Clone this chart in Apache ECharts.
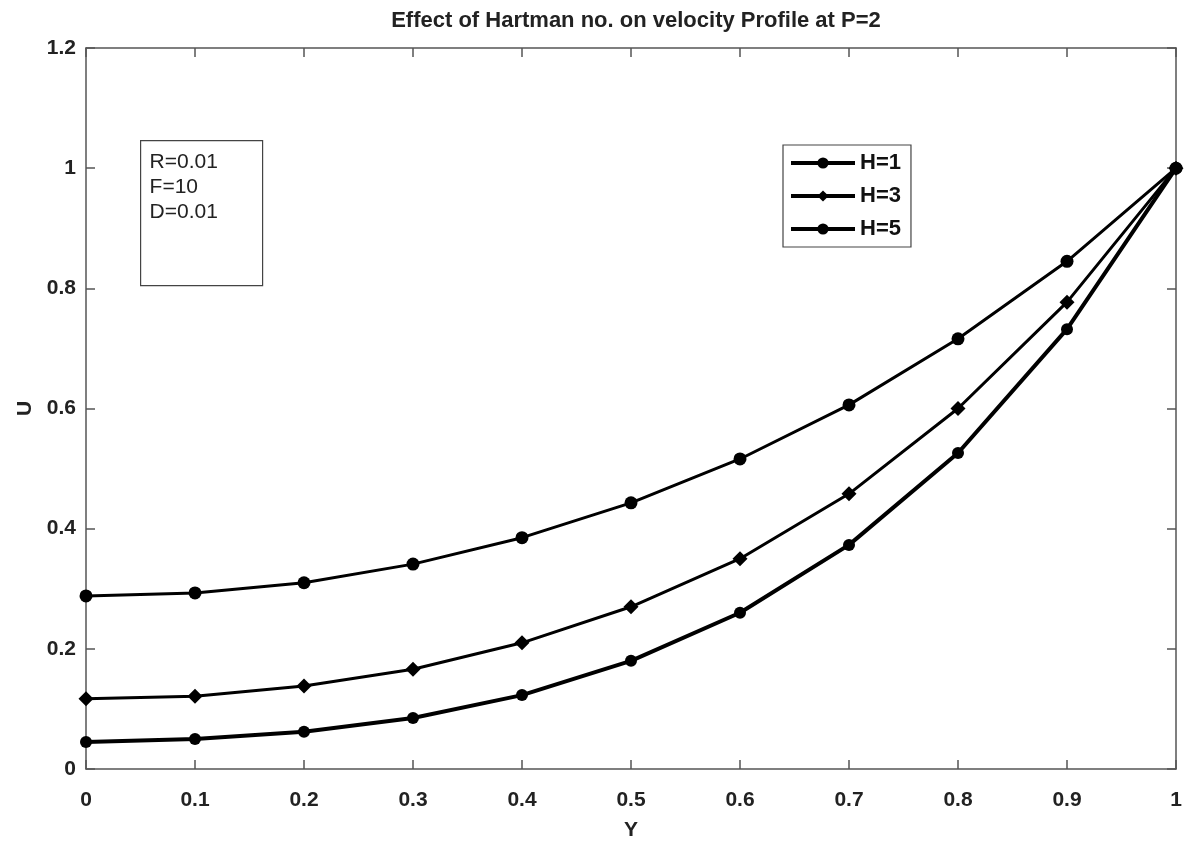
<!DOCTYPE html>
<html>
<head>
<meta charset="utf-8">
<script src="https://cdn.jsdelivr.net/npm/echarts@6/dist/echarts.min.js"></script>
<style>
  html, body { margin: 0; padding: 0; background: #fff; }
  #HartmanChart { width: 1192px; height: 841px; }
</style>
</head>
<body>
<div id="HartmanChart"></div>
<script>
// Y positions across the channel
const yPositions = [0, 0.1, 0.2, 0.3, 0.4, 0.5, 0.6, 0.7, 0.8, 0.9, 1];
// Velocity U for each Hartman number
const uH1 = [0.288, 0.293, 0.31, 0.341, 0.385, 0.443, 0.516, 0.606, 0.716, 0.845, 1];
const uH3 = [0.117, 0.121, 0.138, 0.166, 0.21, 0.27, 0.35, 0.458, 0.6, 0.777, 1];
const uH5 = [0.045, 0.05, 0.062, 0.085, 0.123, 0.18, 0.26, 0.373, 0.526, 0.732, 1];
const seriesNames = ["H=1", "H=3", "H=5"];
const paramLines = ["R=0.01", "F=10", "D=0.01"];

const pairs = (ys) => yPositions.map((x, i) => [x, ys[i]]);

var chartDom = document.getElementById("HartmanChart");
var myChart = echarts.init(chartDom);

const tickFont = {
  color: "#222",
  fontFamily: "Liberation Sans",
  fontWeight: "bold",
  fontSize: 21,
};
// onZero off, otherwise the mirror axes jump onto the main ones
const axisLine = { show: true, onZero: false, lineStyle: { color: "#555", width: 1.5 } };
const axisTick = { show: true, inside: true, length: 9, lineStyle: { color: "#555", width: 1.5 } };
const fmt = (v) => String(Math.round(v * 10) / 10);

var option = {
  backgroundColor: "#fff",
  animation: false,
  title: {
    text: "Effect of Hartman no. on velocity Profile at P=2",
    left: 631,
    textAlign: "center",
    top: 5,
    textStyle: { color: "#222", fontFamily: "Liberation Sans", fontWeight: "bold", fontSize: 22 },
  },
  grid: { left: 86, right: 16, top: 48, bottom: 72, outerBoundsMode: "none" },
  legend: {
    orient: "vertical",
    left: 783,
    top: 145,
    itemWidth: 64,
    itemHeight: 14,
    itemGap: 11,
    padding: [7, 10, 7, 6],
    borderColor: "#444",
    borderWidth: 1.2,
    backgroundColor: "#fff",
    lineStyle: { width: 4 },
    textStyle: { color: "#111", fontFamily: "Liberation Sans", fontWeight: "bold", fontSize: 22 },
    data: seriesNames,
  },
  xAxis: [
    {
      type: "value",
      min: 0,
      max: 1,
      interval: 0.1,
      name: "Y",
      nameLocation: "middle",
      nameGap: 51,
      nameTextStyle: tickFont,
      axisLine: axisLine,
      axisTick: axisTick,
      axisLabel: { ...tickFont, margin: 21, formatter: fmt },
      splitLine: { show: false },
    },
    {
      type: "value",
      position: "top",
      min: 0,
      max: 1,
      interval: 0.1,
      axisLine: axisLine,
      axisTick: axisTick,
      axisLabel: { show: false },
      splitLine: { show: false },
    },
  ],
  yAxis: [
    {
      type: "value",
      min: 0,
      max: 1.2,
      interval: 0.2,
      name: "U",
      nameLocation: "middle",
      nameGap: 50,
      nameRotate: 90,
      nameTextStyle: tickFont,
      axisLine: axisLine,
      axisTick: axisTick,
      axisLabel: { ...tickFont, margin: 10, formatter: fmt },
      splitLine: { show: false },
    },
    {
      type: "value",
      position: "right",
      min: 0,
      max: 1.2,
      interval: 0.2,
      axisLine: axisLine,
      axisTick: axisTick,
      axisLabel: { show: false },
      splitLine: { show: false },
    },
  ],
  graphic: [
    {
      type: "group",
      left: 140,
      top: 140,
      children: [
        {
          type: "rect",
          shape: { x: 0, y: 0, width: 122, height: 145 },
          style: { fill: "#fff", stroke: "#444", lineWidth: 1.2 },
        },
        {
          type: "text",
          x: 9,
          y: 9,
          style: {
            text: paramLines.join("\n"),
            fill: "#222",
            font: "21px 'Liberation Sans'",
            lineHeight: 25,
          },
        },
      ],
    },
  ],
  series: [
    {
      name: seriesNames[0],
      type: "line",
      data: pairs(uH1),
      symbol: "circle",
      symbolSize: 13,
      lineStyle: { color: "#000", width: 3 },
      itemStyle: { color: "#000" },
    },
    {
      name: seriesNames[1],
      type: "line",
      data: pairs(uH3),
      symbol: "diamond",
      symbolSize: 15,
      lineStyle: { color: "#000", width: 3 },
      itemStyle: { color: "#000" },
    },
    {
      name: seriesNames[2],
      type: "line",
      data: pairs(uH5),
      symbol: "circle",
      symbolSize: 12,
      lineStyle: { color: "#000", width: 4 },
      itemStyle: { color: "#000" },
    },
  ],
};
myChart.setOption(option);
</script>
</body>
</html>
